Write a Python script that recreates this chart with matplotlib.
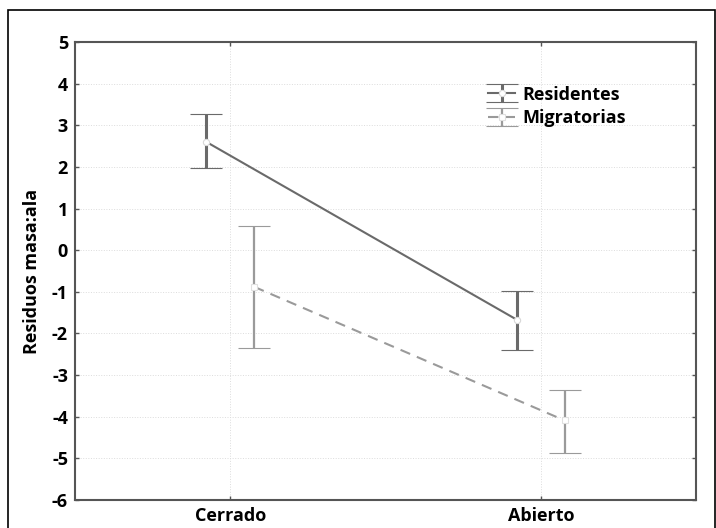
import numpy as np
import matplotlib
matplotlib.use("Agg")
import matplotlib.pyplot as plt
from matplotlib.patches import Rectangle

plt.rcParams['font.family'] = ['Open Sans', 'DejaVu Sans']
plt.rcParams['font.weight'] = 'bold'
plt.rcParams['axes.unicode_minus'] = False

# datos
categorias = ["Cerrado", "Abierto"]
res_media = [2.60, -1.67]
res_inf = [1.98, -2.40]
res_sup = [3.27, -0.98]
mig_media = [-0.88, -4.09]
mig_inf = [-2.35, -4.86]
mig_sup = [0.58, -3.37]

x = np.arange(len(categorias))
desp = 0.077

fig = plt.figure(figsize=(7.16, 5.28), dpi=100)
ax = fig.add_axes([75/716, 1 - 500/528, (696-75)/716, (500-42)/528])

res_err = [np.subtract(res_media, res_inf), np.subtract(res_sup, res_media)]
mig_err = [np.subtract(mig_media, mig_inf), np.subtract(mig_sup, mig_media)]

ax.errorbar(x - desp, res_media, yerr=res_err, color='#6a6a6a', lw=1.5,
            elinewidth=2.2, capsize=11.5, capthick=2.2,
            marker='o', ms=4.5, mfc='white', mec='#d8d8d8', mew=0.8,
            label='Residentes', zorder=3)
ax.errorbar(x + desp, mig_media, yerr=mig_err, color='#9a9a9a', lw=1.5,
            ls=(0, (5, 3.5)), elinewidth=1.6, capsize=11.5, capthick=1.6,
            marker='s', ms=4, mfc='white', mec='#e0e0e0', mew=0.8,
            label='Migratorias', zorder=3)

ax.set_xlim(-0.5, 1.5)
ax.set_ylim(-6, 5)
ax.set_yticks(np.arange(-6, 6))
ax.set_xticks(x)
ax.set_xticklabels(categorias)
ax.tick_params(direction='in', length=3, width=1, colors='#555555',
               labelcolor='black', labelsize=13, right=True, top=True)
ax.tick_params(axis='y', pad=5)
ax.tick_params(axis='x', pad=5)
ax.grid(True, ls=':', lw=0.7, color='#dcdcdc')
for s in ax.spines.values():
    s.set_color('#555555')
    s.set_linewidth(1.5)

ax.set_ylabel("Residuos masa:ala", fontsize=13, fontweight='bold', labelpad=8)

leg = ax.legend(loc='upper left', bbox_to_anchor=(0.665, 0.905), frameon=False,
                fontsize=13, handlelength=1.5, handletextpad=0.4,
                labelspacing=0.3, borderaxespad=0, borderpad=0)

fig.patches.append(Rectangle((8/716, -0.05), 1 - 8/716 - 0.001, 1.05 - 10/528,
                             transform=fig.transFigure, fill=False,
                             edgecolor='black', lw=1.2))

fig.savefig("out.png", dpi=100)
